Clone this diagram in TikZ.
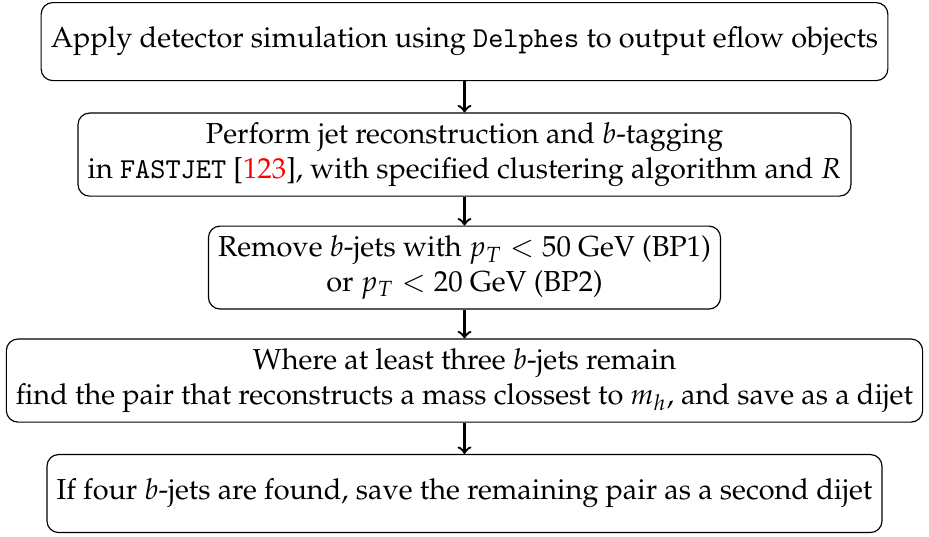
\documentclass[tikz,border=0pt]{standalone}
\usepackage[T1]{fontenc}
\usepackage{mathpazo}
\usepackage{amsmath}
\usepackage{xcolor}
\usepackage{tikz}
\usetikzlibrary{arrows, calc, positioning}

% program names in typewriter
\newcommand{\prog}[1]{{\fontencoding{OT1}\fontfamily{cmtt}\selectfont #1}}

\tikzset{
	stepbox/.style={draw, rounded corners, align=center, minimum height=27pt},
	flow/.style={thick,->}
}

\begin{document}
\begin{tikzpicture}[node distance=1.375cm, on grid]
						\node[stepbox] (detsim) {Apply detector simulation using \prog{Delphes} to output eflow objects};

						\node[stepbox, below=of detsim] (jetreco) {Perform jet reconstruction and $b$-tagging\\in \prog{FASTJET} [\textcolor{red}{123}], with specified clustering algorithm and $R$};

						\node[stepbox, below=of jetreco] (ptcut) {Remove $b$-jets with $p_T < 50$~GeV (BP1)\\or $p_T < 20$~GeV (BP2)};

						\node[stepbox, below=of ptcut] (dijet) {Where at least three $b$-jets remain\\find the pair that reconstructs a mass clossest to $m_h$, and save as a dijet};

						\node[stepbox, below=of dijet] (second) {If four $b$-jets are found, save the remaining pair as a second dijet};

						\draw[flow] (detsim) -- (jetreco);
						\draw[flow] (jetreco) -- (ptcut);
						\draw[flow] (ptcut) -- (dijet);
						\draw[flow] (dijet) -- (second);

						% keep a thin margin round the boxes
						\useasboundingbox ($(dijet.west |- detsim.north)+(-2pt,0.7pt)$) rectangle ($(dijet.east |- second.south)+(2pt,-1pt)$);
					\end{tikzpicture}
\end{document}
